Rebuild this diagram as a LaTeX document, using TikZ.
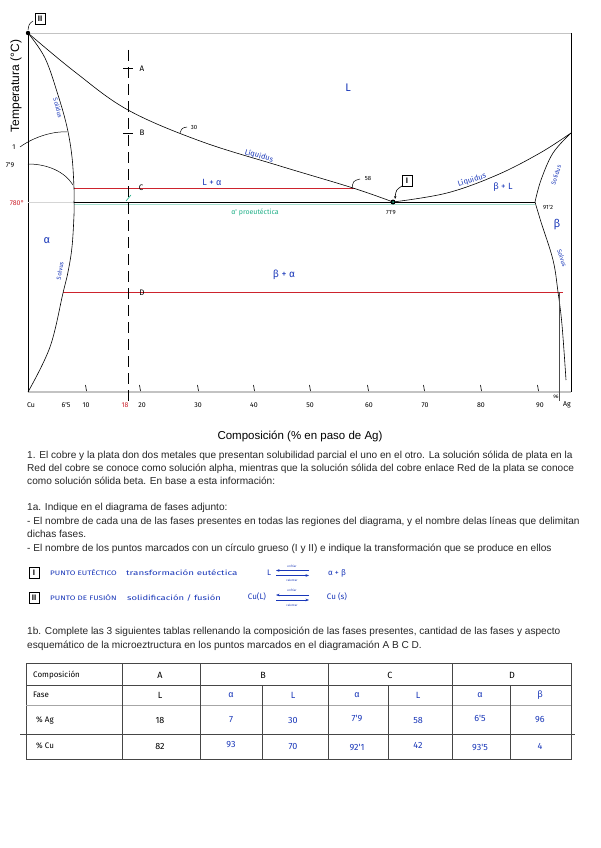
\documentclass[tikz,border=0pt]{standalone}
\usepackage{fontspec}
\setmainfont{Liberation Sans}
\newfontfamily\hand{Fira Sans}
\usetikzlibrary{arrows.meta}
\definecolor{hblue}{RGB}{25,55,185}
\definecolor{hred}{RGB}{205,35,45}
\definecolor{hgreen}{RGB}{30,175,135}
\definecolor{axgray}{RGB}{195,195,195}
\definecolor{tabgray}{RGB}{70,70,70}
\newcommand{\hx}[2]{\scalebox{#1}[1]{#2}}
\begin{document}
\begin{tikzpicture}[x=1pt,y=-1pt,
  curve/.style={black,line width=0.6pt},
  hw/.style={font=\hand\fontsize{7}{8}\selectfont,inner sep=0pt},
  hwb/.style={hw,text=hblue},
  body/.style={anchor=base west,inner sep=0pt,font=\fontsize{10.1}{12}\selectfont,text=black!85},
  tnum/.style={font=\hand\fontsize{9}{10}\selectfont,inner sep=0pt},
  ticklbl/.style={font=\hand\fontsize{7}{8}\selectfont,inner sep=0pt},
  smallbox/.style={draw,line width=0.6pt,inner sep=1.2pt,font=\fontsize{8}{9}\selectfont\bfseries,minimum width=10pt,minimum height=11pt}]
\useasboundingbox (0,0) rectangle (600,848);
\fill[white] (0,0) rectangle (600,848);

% frame
\draw[axgray,line width=0.8pt] (28,33) -- (571,33);
\draw[axgray,line width=1.2pt] (28,392) -- (571,392);
\draw[black,line width=0.6pt] (28,33) -- (28,392);
\draw[black,line width=0.6pt] (571,33) -- (571,392);

% 780 line
\draw[axgray!70,line width=0.6pt] (28,202) -- (74,202);
\draw[hgreen!40,line width=0.6pt] (74,204) -- (535,204);
\draw[black,line width=0.7pt] (74,202) -- (535,202);

% red lines
\draw[hred,line width=0.7pt] (74,188) -- (355,188);
\draw[hred,line width=0.7pt] (63,292) -- (563,292);

% liquidus left
\draw[curve] plot[smooth,tension=0.6] coordinates {(28,33) (75,72) (128,110) (200,141) (280,166) (353,188) (393,202)};
% solidus left
\draw[curve] plot[smooth,tension=0.6] coordinates {(28,33) (45,58) (58,95) (67,127) (72,157) (74,188) (74,202)};
% solvus left
\draw[curve] plot[smooth,tension=0.6] coordinates {(74,202) (74,215) (72,247) (68,272) (63,293) (50,347) (28,392)};
% liquidus right
\draw[curve] plot[smooth,tension=0.6] coordinates {(393,202) (447,193) (497,175) (540,153) (571,133)};
% solidus right
\draw[curve] plot[smooth,tension=0.6] coordinates {(571,133) (553,153) (541,180) (535,202)};
% solvus right
\draw[curve] plot[smooth,tension=0.6] coordinates {(535,202) (541,222) (553,260) (558,292) (562,325) (566,380)};
% 96 line
\draw[black!70,line width=0.5pt] (559,292) -- (559,401);

% dashed line
\draw[black,line width=0.8pt,dash pattern=on 11pt off 6pt] (128,50) -- (128,402);
\draw[black,line width=0.8pt] (123,68) -- (133,68);
\draw[black,line width=0.8pt] (123,133) -- (133,133);
\draw[hgreen,line width=0.6pt] (126,201) -- (131,195);
\node[ticklbl,font=\hand\fontsize{8}{9}\selectfont] (lA) at (142,69) {A};
\node[ticklbl,font=\hand\fontsize{8}{9}\selectfont] (lB) at (142,133) {B};
\node[ticklbl,font=\hand\fontsize{8}{9}\selectfont] (lC) at (141,188) {C};
\node[ticklbl,font=\hand\fontsize{8}{9}\selectfont] (lD) at (142,293) {D};

% leaders
\draw[curve,line width=0.5pt] (180,133) .. controls (182,128) .. (187,127);
\node[ticklbl,font=\hand\fontsize{6}{7}\selectfont] (l30) at (194,127) {30};
\draw[curve,line width=0.5pt] (352,189) .. controls (353,181) .. (360,179);
\node[ticklbl,font=\hand\fontsize{6}{7}\selectfont] (l58) at (368,178) {58};
\draw[curve,line width=0.5pt] (20,147) .. controls (35,136) and (55,131) .. (67,132);
\node[ticklbl] (l1) at (14,147) {1};
\draw[curve,line width=0.5pt] (28,164) .. controls (48,164) and (65,172) .. (73,185);
\node[ticklbl] (l79) at (10,165) {7'9};
\node[ticklbl,text=hred] (l780) at (17,203) {780°};

% points
\fill[black] (28,33) circle (2.2pt);
\node[smallbox] (boxII) at (40,19) {II};
\draw[curve,line width=0.5pt] (33,21) .. controls (29,24) .. (28,30);
\fill[black] (393,202) circle (2.5pt);
\fill[hgreen] (393,202) circle (1pt);
\node[smallbox] (boxI) at (407,181) {I};
\draw[curve,line width=0.6pt,-{Stealth[length=3pt]}] (402,186) .. controls (396,190) .. (395,199);
\node[ticklbl,font=\hand\fontsize{6}{7}\selectfont] (l719) at (391,212) {71'9};
\node[ticklbl,font=\hand\fontsize{6}{7}\selectfont] (l912) at (548,207) {91'2};

% region labels
\node[hwb,font=\hand\fontsize{11}{12}\selectfont] (rL) at (348,88) {L};
\node[hwb,font=\hand\fontsize{9}{10}\selectfont] (rLa) at (212,182) {L + α};
\node[hw,text=hgreen,font=\hand\fontsize{7}{8}\selectfont] (rpro) at (255,212) {α' proeutéctica};
\node[hwb,rotate=-16,font=\hand\fontsize{7.5}{8}\selectfont] (liq1) at (259,156) {Líquidus};
\node[hwb,rotate=17,font=\hand\fontsize{7.5}{8}\selectfont] (liq2) at (472,180) {Líquidus};
\node[hwb,font=\hand\fontsize{9}{10}\selectfont] (rbL) at (503,187) {β + L};
\node[hwb,rotate=72,font=\hand\fontsize{6}{7}\selectfont] (sol2) at (556,175) {Solidus};
\node[hwb,font=\hand\fontsize{11}{12}\selectfont] (rb) at (557,225) {β};
\node[hwb,rotate=-72,font=\hand\fontsize{6}{7}\selectfont] (sv2) at (562,258) {Solvus};
\node[hwb,rotate=-75,font=\hand\fontsize{6}{7}\selectfont] (sol1) at (58,108) {Solidus};
\node[hwb,font=\hand\fontsize{11}{12}\selectfont] (ra) at (47,241) {α};
\node[hwb,rotate=80,font=\hand\fontsize{6}{7}\selectfont] (sv1) at (60,271) {Solvus};
\node[hwb,font=\hand\fontsize{10}{11}\selectfont] (rba) at (284,275) {β + α};

% x ticks
\foreach \xx in {86,140,198,254,310,368,424,481,538}
  \draw[black,line width=0.6pt] (\xx-0.5,385) -- (\xx+0.5,391);
\foreach \xx/\tt in {31/Cu,66/6'5,86/10,142/20,198/30,254/40,310/50,369/60,425/70,481/80,540/90}
  \node[ticklbl] (xl\xx) at (\xx,405) {\tt};
\node[ticklbl,text=hred] (xl18) at (125,405) {18};
\node[ticklbl,font=\hand\fontsize{5}{6}\selectfont] (xl96) at (556,397) {96};
\node[ticklbl] (xlAg) at (567,405) {Ag};

% axis titles
\node[rotate=90,inner sep=0pt,font=\fontsize{12}{14}\selectfont] (ytitle) at (16,86) {Temperatura (°C)};
\node[inner sep=0pt,font=\fontsize{11.5}{13}\selectfont] (xtitle) at (300,436) {Composición (\% en paso de Ag)};

% body text
\node[body] (t1) at (27,458) {1. El cobre y la plata don dos metales que presentan solubilidad parcial el uno en el otro. La solución sólida de plata en la};
\node[body] (t2) at (27,471) {Red del cobre se conoce como solución alpha, mientras que la solución sólida del cobre enlace Red de la plata se conoce};
\node[body] (t3) at (27,484) {como solución sólida beta. En base a esta información:};
\node[body] (t4) at (27,510) {1a. Indique en el diagrama de fases adjunto:};
\node[body] (t5) at (27,524) {- El nombre de cada una de las fases presentes en todas las regiones del diagrama, y el nombre delas líneas que delimitan};
\node[body] (t6) at (27,537) {dichas fases.};
\node[body] (t7) at (27,551) {- El nombre de los puntos marcados con un círculo grueso (I y II) e indique la transformación que se produce en ellos};

% I / II rows
\node[smallbox] (bI) at (34,573) {I};
\node[hwb,anchor=west,font=\hand\fontsize{6.5}{7}\selectfont] (pe) at (50,573) {\hx{1.25}{PUNTO EUTÉCTICO}};
\node[hwb,anchor=west,font=\hand\fontsize{7}{8}\selectfont] (te) at (126,573) {\hx{1.4}{transformación eutéctica}};
\node[hwb,font=\hand\fontsize{8}{9}\selectfont] (eL) at (269,573) {L};
\node[hwb,font=\hand\fontsize{8}{9}\selectfont] (eab) at (337,573) {α + β};
\draw[hblue,line width=0.6pt,-{Stealth[length=3.5pt]}] (309,570.5) -- (276,570.5);
\draw[hblue,line width=0.6pt,-{Stealth[length=3.5pt]}] (276,575.5) -- (309,575.5);
\node[hwb,font=\hand\fontsize{3}{3}\selectfont] (e1) at (292,566) {enfriar};
\node[hwb,font=\hand\fontsize{3}{3}\selectfont] (e2) at (292,580) {calentar};

\node[smallbox] (bII) at (34,598) {II};
\node[hwb,anchor=west,font=\hand\fontsize{6.5}{7}\selectfont] (pf) at (50,598) {\hx{1.25}{PUNTO DE FUSIÓN}};
\node[hwb,anchor=west,font=\hand\fontsize{7}{8}\selectfont] (sf) at (127,598) {\hx{1.35}{solidificación / fusión}};
\node[hwb,font=\hand\fontsize{8}{9}\selectfont] (cuL) at (257,597) {Cu(L)};
\node[hwb,font=\hand\fontsize{8}{9}\selectfont] (cuS) at (337,597) {Cu (s)};
\draw[hblue,line width=0.6pt,-{Stealth[length=3.5pt]}] (309,595) -- (276,595);
\draw[hblue,line width=0.6pt,-{Stealth[length=3.5pt]}] (276,600) -- (309,600);
\node[hwb,font=\hand\fontsize{3}{3}\selectfont] (f1) at (292,590) {enfriar};
\node[hwb,font=\hand\fontsize{3}{3}\selectfont] (f2) at (292,605) {calentar};

\node[body] (t8) at (27,634) {1b. Complete las 3 siguientes tablas rellenando la composición de las fases presentes, cantidad de las fases y aspecto};
\node[body] (t9) at (27,648) {esquemático de la microeztructura en los puntos marcados en el diagramación A B C D.};

% table
\draw[tabgray,line width=0.6pt] (26,663) rectangle (571,759);
\draw[tabgray,line width=0.6pt] (26,685) -- (571,685);
\draw[black!35,line width=0.6pt] (26,705) -- (571,705);
\draw[tabgray,line width=0.6pt] (20,734) -- (575,734);
\foreach \xx in {122,200,328,452}
  \draw[tabgray,line width=0.6pt] (\xx,663) -- (\xx,759);
\foreach \xx in {262,388,510}
  \draw[tabgray,line width=0.6pt] (\xx,685) -- (\xx,759);

\node[tnum,anchor=west,font=\hand\fontsize{8}{9}\selectfont] (hC) at (33,675) {Composición};
\node[tnum,anchor=west,font=\hand\fontsize{8}{9}\selectfont] (hF) at (33,695) {Fase};
\node[tnum,anchor=west,font=\hand\fontsize{8}{9}\selectfont] (hAg) at (36,720) {\% Ag};
\node[tnum,anchor=west,font=\hand\fontsize{8}{9}\selectfont] (hCu) at (36,746) {\% Cu};
\node[tnum] (cA) at (160,675) {A};
\node[tnum] (cB) at (263,675) {B};
\node[tnum] (cC) at (390,675) {C};
\node[tnum] (cD) at (512,675) {D};
\node[tnum] (fA) at (160,695) {L};
\node[tnum,text=hblue] (fB1) at (231,695) {α};
\node[tnum,text=hblue] (fB2) at (293,695) {L};
\node[tnum,text=hblue] (fC1) at (357,695) {α};
\node[tnum,text=hblue] (fC2) at (418,695) {L};
\node[tnum,text=hblue] (fD1) at (480,695) {α};
\node[tnum,text=hblue] (fD2) at (540,695) {β};
\node[tnum] (aA) at (160,720) {18};
\node[tnum,text=hblue] (aB1) at (231,720) {7};
\node[tnum,text=hblue] (aB2) at (293,720) {30};
\node[tnum,text=hblue] (aC1) at (357,718) {7'9};
\node[tnum,text=hblue] (aC2) at (418,720) {58};
\node[tnum,text=hblue] (aD1) at (480,718) {6'5};
\node[tnum,text=hblue] (aD2) at (540,720) {96};
\node[tnum] (uA) at (160,746) {82};
\node[tnum,text=hblue] (uB1) at (231,745) {93};
\node[tnum,text=hblue] (uB2) at (293,746) {70};
\node[tnum,text=hblue] (uC1) at (357,747) {92'1};
\node[tnum,text=hblue] (uC2) at (418,745) {42};
\node[tnum,text=hblue] (uD1) at (480,747) {93'5};
\node[tnum,text=hblue] (uD2) at (540,746) {4};
\end{tikzpicture}
\end{document}
